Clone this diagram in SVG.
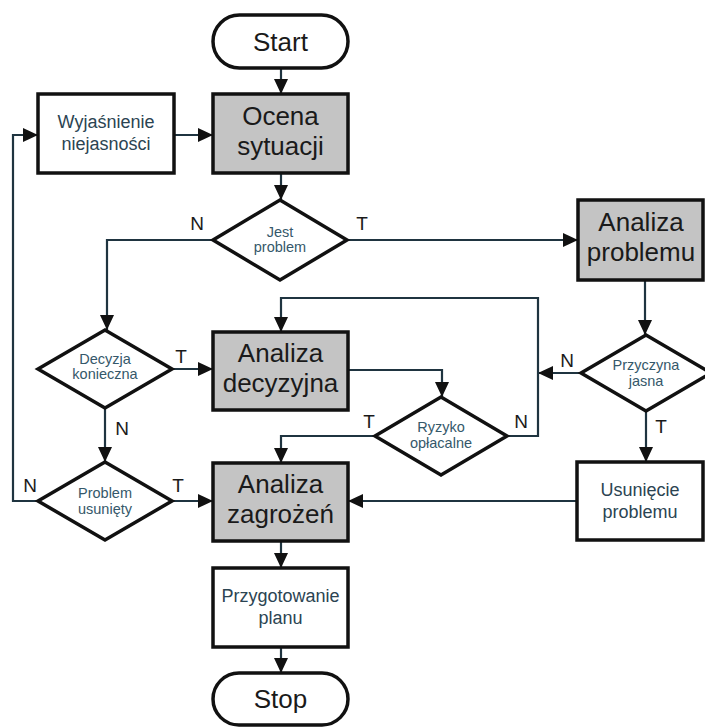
<svg xmlns="http://www.w3.org/2000/svg" width="705" height="727" viewBox="0 0 705 727">
<defs>
<marker id="ah" markerUnits="userSpaceOnUse" markerWidth="16" markerHeight="16" viewBox="0 0 16 16" refX="15" refY="8" orient="auto">
<path d="M0,1 L15,8 L0,15 Z" fill="#111"/>
</marker>
</defs>
<style>
.box{fill:#fff;stroke:#111;stroke-width:3.5}
.gbox{fill:#c4c4c4;stroke:#111;stroke-width:3.5}
.dia{fill:#fff;stroke:#111;stroke-width:3.5;stroke-linejoin:miter}
.con{fill:none;stroke:#1f3440;stroke-width:2.2;marker-end:url(#ah)}
text{font-family:"Liberation Sans",Arial,sans-serif;text-anchor:middle}
.big{font-size:26px;fill:#1a1a1a}
.term{font-size:26px;fill:#1a1a1a}
.mid{font-size:18px;fill:#2b4452}
.sm{font-size:14.5px;fill:#35586a}
.lbl{font-size:19px;fill:#1a1a1a}
</style>
<rect width="705" height="727" fill="#fff"/>
<g id="connectors">
<path class="con" d="M281,68 V94"/>
<path class="con" d="M281,173 V200"/>
<path class="con" d="M174,135 H213"/>
<path class="con" d="M347,240 H578"/>
<path class="con" d="M213,240 H107 V330"/>
<path class="con" d="M172,369 H213"/>
<path class="con" d="M105,408 V462"/>
<path class="con" d="M172,501 H213"/>
<path class="con" d="M38,501 H13 V135 H38"/>
<path class="con" d="M645,280 V335"/>
<path class="con" d="M581,373 H538"/>
<path class="con" d="M646,411 V462"/>
<path class="con" d="M577,501 H348"/>
<path class="con" d="M348,370 H442 V397"/>
<path class="con" d="M375,436 H281 V463"/>
<path class="con" d="M507,436 H538 V298 H281 V332"/>
<path class="con" d="M281,541 V568"/>
<path class="con" d="M281,647 V673"/>
<g id="labels">
<text class="lbl" x="197" y="230">N</text>
<text class="lbl" x="362" y="230">T</text>
<text class="lbl" x="181" y="363">T</text>
<text class="lbl" x="122" y="435">N</text>
<text class="lbl" x="30" y="492">N</text>
<text class="lbl" x="178" y="492">T</text>
<text class="lbl" x="567" y="367">N</text>
<text class="lbl" x="661" y="433">T</text>
<text class="lbl" x="369" y="428">T</text>
<text class="lbl" x="521" y="428">N</text>
</g>
</g>
<g id="start">
<rect class="box" x="213" y="15" width="135" height="53" rx="26.5"/>
<text class="term" x="280.5" y="51">Start</text>
</g>
<g id="ocena">
<rect class="gbox" x="213" y="94" width="135" height="79"/>
<text class="big" x="280.5" y="125">Ocena</text>
<text class="big" x="280.5" y="155">sytuacji</text>
</g>
<g id="wyjasnienie">
<rect class="box" x="38" y="94" width="136" height="79"/>
<text class="mid" x="106" y="128">Wyjaśnienie</text>
<text class="mid" x="106" y="150">niejasności</text>
</g>
<g id="jest">
<polygon class="dia" points="213,240 280,200 347,240 280,280"/>
<text class="sm" x="280" y="237">Jest</text>
<text class="sm" x="280" y="252">problem</text>
</g>
<g id="analiza-problemu">
<rect class="gbox" x="578" y="200" width="125" height="80"/>
<text class="big" x="641" y="231">Analiza</text>
<text class="big" x="641" y="261">problemu</text>
</g>
<g id="przyczyna">
<polygon class="dia" points="581,373 646,335 711,373 646,411"/>
<text class="sm" x="646" y="370">Przyczyna</text>
<text class="sm" x="646" y="386">jasna</text>
</g>
<g id="decyzja">
<polygon class="dia" points="38,369 105,330 172,369 105,408"/>
<text class="sm" x="105" y="364">Decyzja</text>
<text class="sm" x="105" y="379">konieczna</text>
</g>
<g id="analiza-decyzyjna">
<rect class="gbox" x="213" y="332" width="135" height="78"/>
<text class="big" x="280.5" y="362">Analiza</text>
<text class="big" x="280.5" y="392">decyzyjna</text>
</g>
<g id="ryzyko">
<polygon class="dia" points="375,436 441,397 507,436 441,475"/>
<text class="sm" x="441" y="432">Ryzyko</text>
<text class="sm" x="441" y="448">opłacalne</text>
</g>
<g id="problem-usuniety">
<polygon class="dia" points="38,501 105,462 172,501 105,540"/>
<text class="sm" x="105" y="498">Problem</text>
<text class="sm" x="105" y="514">usunięty</text>
</g>
<g id="analiza-zagrozen">
<rect class="gbox" x="213" y="463" width="135" height="78"/>
<text class="big" x="280.5" y="493">Analiza</text>
<text class="big" x="280.5" y="523">zagrożeń</text>
</g>
<g id="usuniecie">
<rect class="box" x="577" y="462" width="126" height="78"/>
<text class="mid" x="640" y="496">Usunięcie</text>
<text class="mid" x="640" y="518">problemu</text>
</g>
<g id="przygotowanie">
<rect class="box" x="213" y="568" width="135" height="79"/>
<text class="mid" x="280.5" y="602">Przygotowanie</text>
<text class="mid" x="280.5" y="624">planu</text>
</g>
<g id="stop">
<rect class="box" x="213" y="673" width="135" height="52" rx="26"/>
<text class="term" x="280.5" y="708">Stop</text>
</g>
</svg>
